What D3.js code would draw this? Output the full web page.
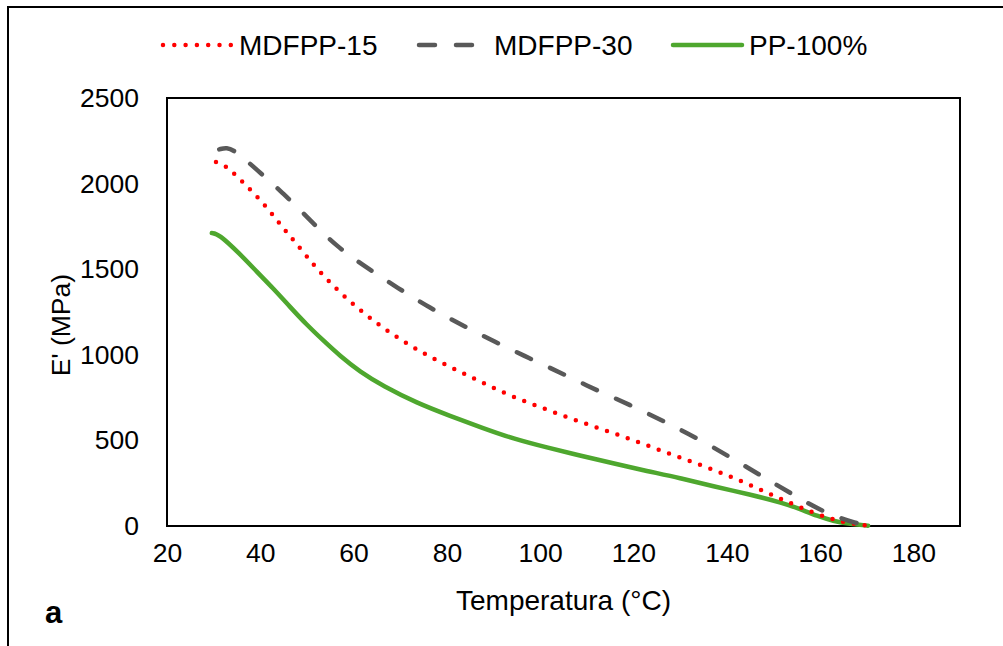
<!DOCTYPE html>
<html>
<head>
<meta charset="utf-8">
<script src="https://cdn.jsdelivr.net/npm/d3@7"></script>
<style>
    body { margin: 0; background: #fff; }
    text { font-family: "Liberation Sans", Arial, sans-serif; fill: #000; }
</style>
</head>
<body>
<svg id="chart-svg" width="1003" height="646"></svg>
<script>
/** Data: temperature (°C) and storage modulus E' (MPa) **/
var xTicks = [20, 40, 60, 80, 100, 120, 140, 160, 180];
var yTicks = [0, 500, 1000, 1500, 2000, 2500];

var seriesNames = ["MDFPP-15", "MDFPP-30", "PP-100%"];

var mdf15_T = [30.5, 32.4, 35.6, 38.8, 41.9, 44.7, 47.7, 51.9, 56.7, 61.8, 67.2, 72.9, 78.9, 85.2, 91.2, 97.6, 104.0, 110.5, 116.9, 123.3, 129.7, 136.2, 142.6, 148.8, 155.0, 161.5, 165.8, 170.3];
var mdf15_E = [2126, 2109, 2027, 1939, 1846, 1746, 1653, 1507, 1373, 1250, 1139, 1040, 952, 870, 789, 718, 654, 590, 532, 467, 403, 339, 269, 193, 117, 47, 18, 2];

var mdf30_T = [31.2, 32.8, 34.6, 39.1, 45.1, 50.7, 56.2, 62.9, 69.5, 76.4, 83.2, 90.3, 97.6, 104.9, 112.0, 119.3, 126.4, 133.6, 140.7, 147.1, 154.0, 161.0, 168.1, 170.7];
var mdf30_E = [2200, 2212, 2192, 2085, 1939, 1787, 1635, 1507, 1390, 1273, 1174, 1075, 981, 888, 794, 707, 613, 514, 403, 298, 187, 76, 12, 3];

var pp_T = [29.6, 31.0, 35.6, 39.3, 42.7, 46.4, 50.0, 53.4, 57.1, 61.4, 66.3, 73.6, 80.7, 87.7, 94.2, 101.5, 108.5, 115.6, 122.9, 130.0, 137.0, 145.0, 152.1, 155.7, 159.4, 162.8, 166.5, 170.3];
var pp_E = [1711, 1708, 1590, 1484, 1390, 1279, 1174, 1086, 993, 900, 818, 718, 643, 572, 510, 458, 412, 366, 321, 280, 232, 184, 134, 99, 58, 29, 12, 2];

/** Layout **/
var margin = {top: 98, right: 43, bottom: 120, left: 167};
var width = 1003 - margin.left - margin.right;
var height = 646 - margin.top - margin.bottom;

var svg = d3.select("#chart-svg");

/** outer frame of the figure **/
svg.append("rect")
    .attr("x", 8).attr("y", 7)
    .attr("width", 1010).attr("height", 660)
    .attr("fill", "none")
    .attr("stroke", "#000")
    .attr("stroke-width", 2);

var g = svg.append("g")
    .attr("transform", "translate(" + margin.left + "," + margin.top + ")");

/** Scales **/
var xScale = d3.scaleLinear().domain([20, 190]).range([0, width]);
var yScale = d3.scaleLinear().domain([0, 2500]).range([height, 0]);

var xAxis = d3.axisBottom(xScale).tickValues(xTicks).tickFormat(d3.format("d")).tickSize(0).tickPadding(17);
var yAxis = d3.axisLeft(yScale).tickValues(yTicks).tickFormat(d3.format("d")).tickSize(0).tickPadding(28);

g.append("g")
    .attr("class", "x_axis")
    .attr("transform", "translate(0," + height + ")")
    .call(xAxis);
g.append("g")
    .attr("class", "y_axis")
    .call(yAxis);

g.selectAll(".domain").remove();
g.selectAll(".tick text")
    .style("font-size", "26.5px")
    .style("font-family", "'Liberation Sans', Arial, sans-serif")
    .attr("fill", "#000");

/** Plot area border **/
g.append("rect")
    .attr("x", 0).attr("y", 0)
    .attr("width", width).attr("height", height)
    .attr("fill", "none")
    .attr("stroke", "#000")
    .attr("stroke-width", 2);

/** Axis titles **/
g.append("text")
    .text("Temperatura (°C)")
    .style("font-size", "28px")
    .style("text-anchor", "middle")
    .attr("x", width / 2)
    .attr("y", height + 84);
g.append("text")
    .text("E' (MPa)")
    .style("font-size", "26.5px")
    .style("text-anchor", "middle")
    .attr("transform", "rotate(-90)")
    .attr("x", -(325 - margin.top))
    .attr("y", 70 - margin.left);

svg.append("text")
    .text("a")
    .style("font-size", "31px")
    .style("font-weight", "bold")
    .attr("x", 45)
    .attr("y", 623);

/** Series styles **/
var styles = [
    {color: "#ff0000", width: 4.5, dash: "0,11", cap: "round"},
    {color: "#595959", width: 4.5, dash: "15.5,21", cap: "round"},
    {color: "#4ea72e", width: 4.5, dash: null, cap: "round"}
];

function zipSeries(T, E){
    return T.map(function(t, i){ return {t: t, e: E[i]}; });
}
var series = [zipSeries(mdf15_T, mdf15_E), zipSeries(mdf30_T, mdf30_E), zipSeries(pp_T, pp_E)];

var valueLine = d3.line()
    .curve(d3.curveBasis)
    .x(function(d){ return xScale(d.t); })
    .y(function(d){ return yScale(d.e); });

/** draw green first, then red, then gray on top (as in the figure) **/
[2, 0, 1].forEach(function(i){
    g.append("path")
        .datum(series[i])
        .attr("fill", "none")
        .attr("stroke", styles[i].color)
        .attr("stroke-width", styles[i].width)
        .attr("stroke-linecap", styles[i].cap)
        .attr("stroke-linejoin", "round")
        .attr("stroke-dasharray", styles[i].dash)
        .attr("d", valueLine);
});

/** Legend **/
var legend = svg.append("g").attr("transform", "translate(162,45)");
var legendItems = legend.selectAll(".legend-item")
    .data(seriesNames)
    .enter().append("g")
    .attr("class", "legend-item")
    .attr("transform", function(d, i){ return "translate(" + (i * 255) + ",0)"; });

legendItems.append("line")
    .attr("x1", function(d, i){ return i === 1 ? 2 : 1; })
    .attr("x2", function(d, i){ return i === 0 ? 69 : (i === 1 ? 58 : 70); })
    .attr("y1", 0).attr("y2", 0)
    .attr("stroke", function(d, i){ return styles[i].color; })
    .attr("stroke-width", 4.5)
    .attr("stroke-linecap", "round")
    .attr("stroke-dasharray", function(d, i){ return i === 0 ? "0,11.3" : (i === 1 ? "16,21" : null); });

legendItems.append("text")
    .text(function(d){ return d; })
    .style("font-size", "28px")
    .attr("x", 77)
    .attr("y", 10);
</script>
</body>
</html>
